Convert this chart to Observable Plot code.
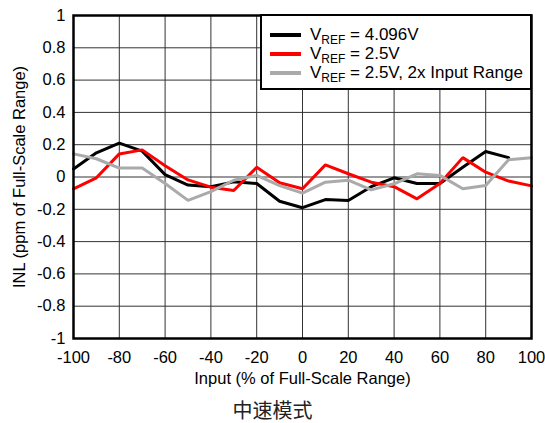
<!DOCTYPE html>
<html><head><meta charset="utf-8">
<script src="https://cdn.jsdelivr.net/npm/d3@7"></script>
<script src="https://cdn.jsdelivr.net/npm/@observablehq/plot@0.6"></script>
<style>
body{margin:0;background:#fff;font-family:"Liberation Sans",Arial,sans-serif;}
#wrap{position:relative;width:545px;}
#legend{position:absolute;left:260px;top:14px;width:268px;height:72px;border:2px solid #000;background:#fff;font-size:17px;}
.row{position:absolute;left:8px;height:19px;display:flex;align-items:center;white-space:nowrap;}
.sw{width:31px;height:4px;margin-right:9px;}
sub{font-size:12px;vertical-align:-4px;line-height:0;}
#cap{text-align:center;font-family:"Noto Sans CJK SC",sans-serif;font-size:20px;color:#222;height:36px;line-height:36px;}
</style></head><body>
<div id="wrap"><div id="chart"></div>
<div id="legend"></div>
<div id="cap">中速模式</div></div>
<script>
const inputs = [-100,-90,-80,-70,-60,-50,-40,-30,-20,-10,0,10,20,30,40,50,60,70,80,90,100];
const vref4096 = [0.05,0.15,0.21,0.16,0.015,-0.05,-0.06,-0.03,-0.04,-0.15,-0.19,-0.14,-0.145,-0.06,-0.005,-0.04,-0.04,0.06,0.158,0.12,null];
const vref25 = [-0.073,-0.005,0.143,0.168,0.07,-0.018,-0.063,-0.084,0.06,-0.036,-0.073,0.075,0.02,-0.032,-0.06,-0.135,-0.04,0.12,0.03,-0.025,-0.055];
const vref25x2 = [0.143,0.113,0.055,0.055,-0.04,-0.145,-0.09,-0.02,0.01,-0.053,-0.1,-0.032,-0.02,-0.08,-0.042,0.02,0.01,-0.073,-0.053,0.107,0.119];
const seriesNames = ["4.096V","2.5V","2.5V, 2x Input Range"];
const seriesColors = ["#000000","#ff0000","#aaaaaa"];
const xTicks = [-100,-80,-60,-40,-20,0,20,40,60,80,100];
const yTicks = [-1,-0.8,-0.6,-0.4,-0.2,0,0.2,0.4,0.6,0.8,1];

const allSeries = [vref4096, vref25, vref25x2];
const rows = [];
allSeries.forEach((vals, si) => vals.forEach((v, i) => {
  if (v !== null) rows.push({x: inputs[i], y: v, s: seriesNames[si]});
}));

const chart = Plot.plot({
  width: 545, height: 392,
  marginLeft: 73, marginRight: 14, marginTop: 15, marginBottom: 54,
  style: {fontFamily: '"Liberation Sans", Arial, sans-serif', fontSize: "16.5px", color: "#000", background: "#fff"},
  x: {domain: [-100, 100], ticks: xTicks, tickSize: 0, tickPadding: 13, tickFormat: d => String(d),
      label: "Input (% of Full-Scale Range)", labelAnchor: "center", labelArrow: "none", labelOffset: 45},
  y: {domain: [-1, 1], ticks: yTicks, tickSize: 0, tickPadding: 8, tickFormat: d => String(+d.toFixed(1)),
      label: "INL (ppm of Full-Scale Range)", labelAnchor: "center", labelArrow: "none", labelOffset: 60},
  color: {domain: seriesNames, range: seriesColors},
  marks: [
    Plot.gridX(xTicks, {stroke: "#333", strokeOpacity: 1, strokeWidth: 1}),
    Plot.gridY(yTicks, {stroke: "#333", strokeOpacity: 1, strokeWidth: 1}),
    Plot.line(rows, {x: "x", y: "y", z: "s", stroke: "s", strokeWidth: 3, strokeLinejoin: "miter"}),
    Plot.frame({stroke: "#000", strokeWidth: 2.5})
  ]
});
document.getElementById("chart").appendChild(chart);

const leg = document.getElementById("legend");
seriesNames.forEach((n, i) => {
  const r = document.createElement("div");
  r.className = "row";
  r.style.top = (9 + i * 19) + "px";
  r.innerHTML = `<div class="sw" style="background:${seriesColors[i]}"></div><span>V<sub>REF</sub> = ${n}</span>`;
  leg.appendChild(r);
});
</script></body></html>
